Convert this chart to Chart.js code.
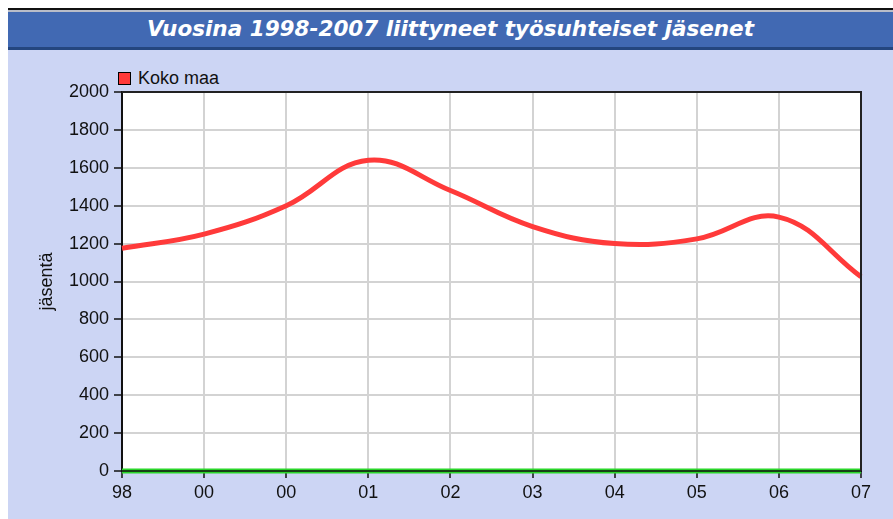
<!DOCTYPE html>
<html>
<head>
<meta charset="utf-8">
<script src="https://cdn.jsdelivr.net/npm/chart.js@4/dist/chart.umd.min.js"></script>
<style>
  html, body { margin: 0; padding: 0; background: #fff; }
  body { width: 893px; height: 519px; position: relative; overflow: hidden; }
  .frame { position: absolute; left: 8px; top: 8px; right: 0; bottom: 0; background: #ccd5f4; border-top: 2px solid #111; }
  .head { position: absolute; left: 0; right: 0; top: 0; height: 35px; background: #4169b3;
          border-top: 2px solid #b9bdc8; border-bottom: 3px solid #24467f;
          color: #fff; font: italic bold 21.5px "DejaVu Sans", sans-serif; text-align: center; line-height: 33px; }
  #wrap { position: absolute; left: 0; top: 41px; width: 885px; height: 470px; }
  .legend { position: absolute; left: 110px; top: 58px; font: 18px "Liberation Sans", Arial, sans-serif; color: #111; }
  .legend span.box { display: inline-block; width: 11px; height: 11px; border: 1px solid #000; vertical-align: -1px; margin-right: 7px; }
</style>
</head>
<body>
<div class="frame">
  <div class="head" id="title"></div>
  <div class="legend" id="legend"></div>
  <div id="wrap"><canvas id="chart"></canvas></div>
</div>
<script>
document.addEventListener("DOMContentLoaded", () => {
  // ================= DATA =================
  const chartTitle = "Vuosina 1998-2007 liittyneet työsuhteiset jäsenet";
  const yearLabels = ["98", "00", "00", "01", "02", "03", "04", "05", "06", "07"];
  const kokoMaa = [1175, 1250, 1400, 1640, 1480, 1290, 1200, 1225, 1340, 1025];
  const baseLine = [0, 0, 0, 0, 0, 0, 0, 0, 0, 0];
  const yTitle = "jäsentä";
  const seriesName = "Koko maa";
  const seriesColor = "#ff3a3a";

  document.getElementById("title").textContent = chartTitle;
  document.getElementById("legend").innerHTML =
    `<span class="box" style="background:${seriesColor}"></span>${seriesName}`;

  // white plot background + frame on top / right of plot area
  const plotFrame = {
    id: "plotFrame",
    beforeDraw(chart) {
      const { ctx, chartArea: a } = chart;
      ctx.save();
      ctx.fillStyle = "#fff";
      ctx.fillRect(a.left, a.top, a.right - a.left, a.bottom - a.top);
      ctx.restore();
    },
    afterDatasetsDraw(chart) {
      const { ctx, chartArea: a } = chart;
      ctx.save();
      ctx.strokeStyle = "#222";
      ctx.lineWidth = 2;
      ctx.beginPath();
      ctx.moveTo(a.left, a.top);
      ctx.lineTo(a.right, a.top);
      ctx.lineTo(a.right, a.bottom);
      ctx.stroke();
      ctx.restore();
    }
  };

  const tickFont = { family: "Liberation Sans, Arial, sans-serif", size: 18 };

  // ================= CHART =================
  new Chart(document.getElementById("chart").getContext("2d"), {
    type: "line",
    data: {
      labels: yearLabels,
      datasets: [
        { label: seriesName, data: kokoMaa, borderColor: seriesColor, borderWidth: 5,
          tension: 0.4, pointRadius: 0, fill: false },
        { label: "base", data: baseLine, borderColor: "#111", borderWidth: 1.5, pointRadius: 0, tension: 0, clip: 6 },
        { label: "base2", data: baseLine, borderColor: "#2ad62a", borderWidth: 5, pointRadius: 0, tension: 0, clip: 6 }
      ]
    },
    options: {
      responsive: true,
      maintainAspectRatio: false,
      animation: false,
      layout: { padding: { top: 41, right: 32, left: 0, bottom: 0 } },
      plugins: { legend: { display: false }, tooltip: { enabled: false } },
      scales: {
        x: {
          offset: false,
          grid: { color: "#d3d3d3", lineWidth: 2, tickColor: "#111", tickWidth: 1.5, tickLength: 7 },
          border: { color: "#111", width: 2 },
          ticks: { color: "#111", font: tickFont, padding: 4, maxRotation: 0, autoSkip: false },
          afterFit: s => { s.height = 50; }
        },
        y: {
          min: 0, max: 2000,
          grid: { color: "#d3d3d3", lineWidth: 2, tickColor: "#111", tickWidth: 1.5, tickLength: 8 },
          border: { color: "#111", width: 2 },
          ticks: { stepSize: 200, color: "#111", font: tickFont, padding: 5, callback: v => String(v) },
          title: { display: true, text: yTitle, color: "#111", font: tickFont, padding: { top: 28, bottom: 0 } },
          afterFit: s => { s.width = 114; }
        }
      }
    },
    plugins: [plotFrame]
  });
});
</script>
</body>
</html>
